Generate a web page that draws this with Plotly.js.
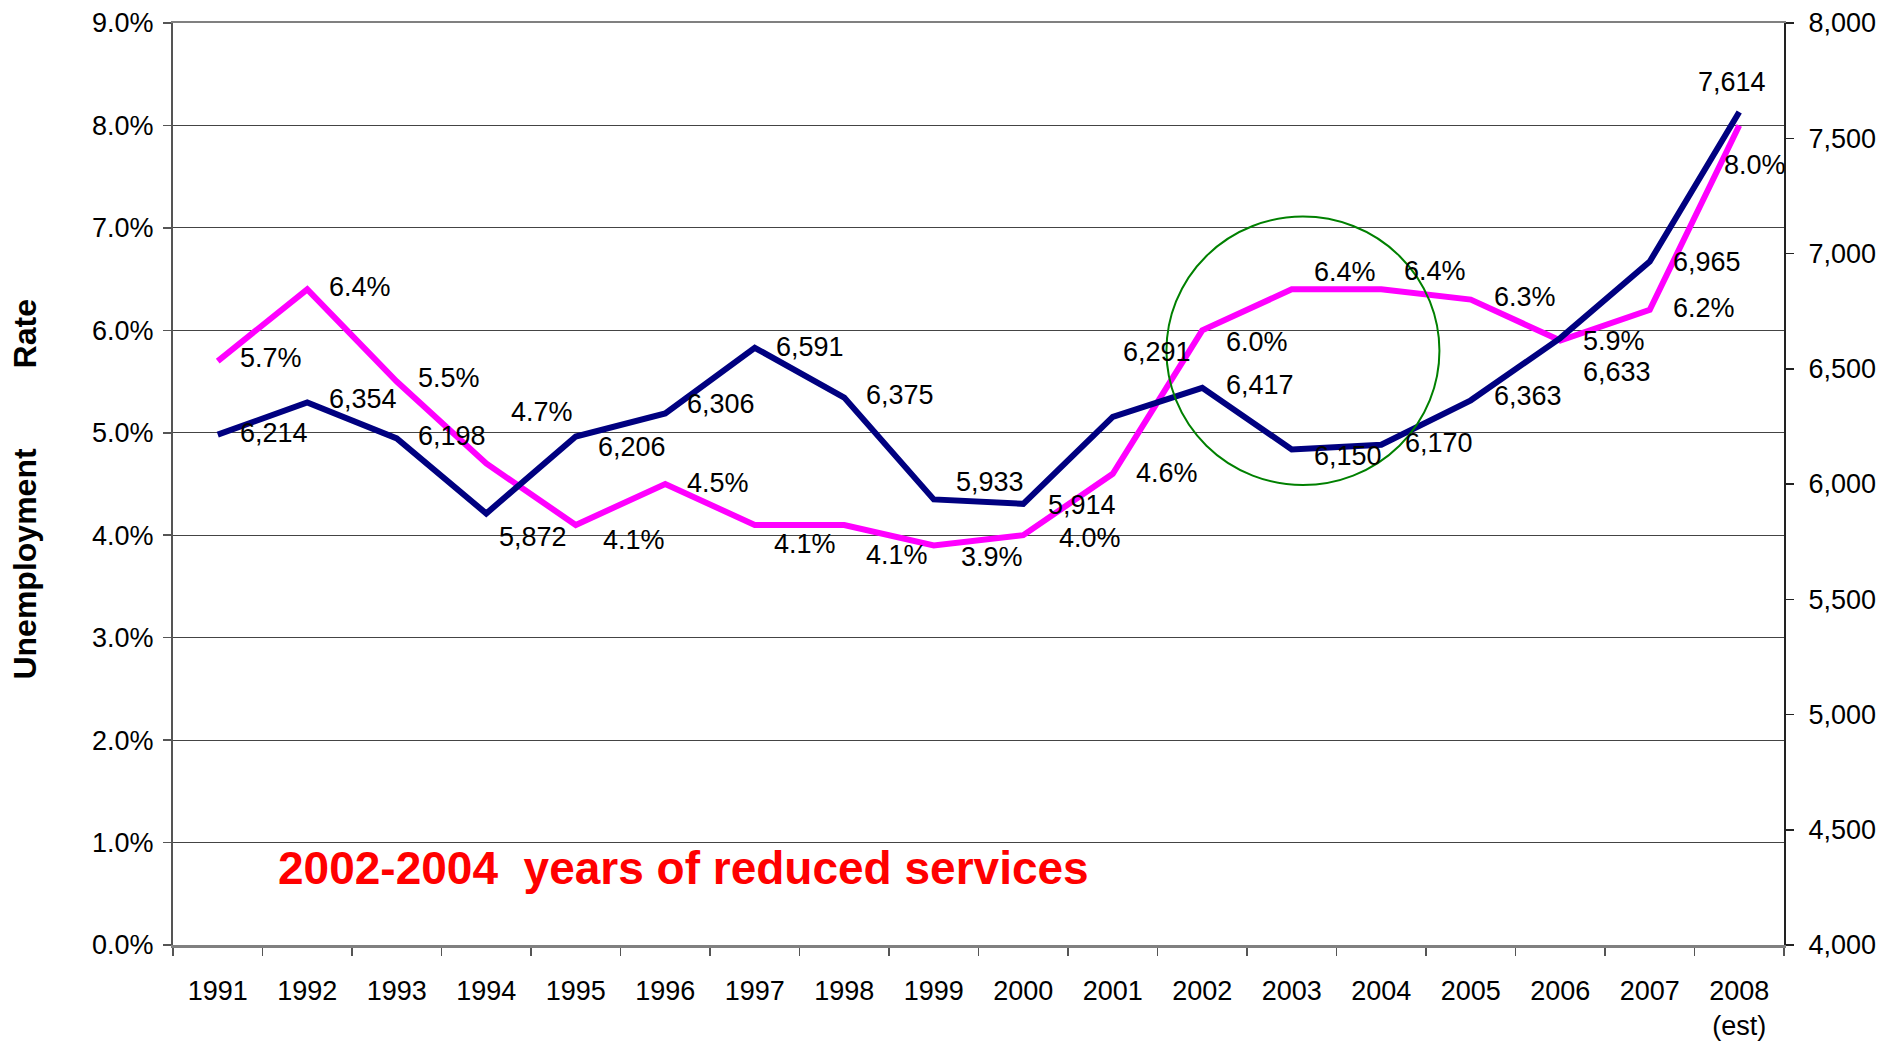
<!DOCTYPE html>
<html>
<head>
<meta charset="utf-8">
<script src="https://cdn.plot.ly/plotly-3.0.1.min.js"></script>
<style>
  html, body { margin: 0; padding: 0; background: #ffffff; }
  #chart { width: 1890px; height: 1057px; }
</style>
</head>
<body>
<div id="chart"></div>
<script>
// ---- data ----
const years = ['1991','1992','1993','1994','1995','1996','1997','1998','1999','2000',
               '2001','2002','2003','2004','2005','2006','2007','2008<br>(est)'];
const unemploymentRate = [5.7, 6.4, 5.5, 4.7, 4.1, 4.5, 4.1, 4.1, 3.9, 4.0,
                          4.6, 6.0, 6.4, 6.4, 6.3, 5.9, 6.2, 8.0];
const countSeries = [6214, 6354, 6198, 5872, 6206, 6306, 6591, 6375, 5933, 5914,
                     6291, 6417, 6150, 6170, 6363, 6633, 6965, 7614];
const leftTicks = [0, 1, 2, 3, 4, 5, 6, 7, 8, 9];
const rightTicks = [4000, 4500, 5000, 5500, 6000, 6500, 7000, 7500, 8000];
const yTitle = 'Unemployment' + '\u00a0'.repeat(9) + 'Rate';
const noteText = '2002-2004\u00a0\u00a0years of reduced services';

// ---- label placement (style: pixel offsets of each value label from its point) ----
const rateLabelDx = [21, 21, 20, 24, 26, 21, 18, 21, 26, 35, 22, 23, 21, 22, 22, 22, 22, -16];
const rateLabelDy = [-3, -2, -4, -52, 15, -1, 19, 30, 12, 3, -1, 12, -17, -18, -3, 0, -2, 40];
const countLabelDx = [21, 21, 20, 12, 21, 21, 20, 21, 21, 24, 9, 23, 21, 23, 22, 22, 22, -42];
const countLabelDy = [-2, -3, -2, 23, 10, -9, -1, -3, -17, 1, -65, -3, 7, -2, -4, 34, 0, -30];

const SANS = '"Liberation Sans", Arial, sans-serif';
const LABEL_SIZE = 27;

const rateTrace = {
  x: years, y: unemploymentRate, yaxis: 'y',
  type: 'scatter', mode: 'lines',
  line: {color: '#FF00FF', width: 6},
  showlegend: false, hoverinfo: 'skip'
};
const countTrace = {
  x: years, y: countSeries, yaxis: 'y2',
  type: 'scatter', mode: 'lines',
  line: {color: '#000080', width: 6},
  showlegend: false, hoverinfo: 'skip'
};

// value labels, positioned at each category (by its index on the category axis) and value
function valueLabels(values, fmt, yref, dxs, dys) {
  return values.map((v, i) => ({
    xref: 'x', yref: yref, x: years.indexOf(years[i]), y: v,
    text: fmt(v), showarrow: false,
    xanchor: 'left', yanchor: 'middle',
    xshift: dxs[i], yshift: -dys[i],
    borderpad: 0,
    font: {family: SANS, size: LABEL_SIZE, color: '#000'}
  }));
}

const labelAnnotations = []
  .concat(valueLabels(unemploymentRate, v => v.toFixed(1) + '%', 'y', rateLabelDx, rateLabelDy))
  .concat(valueLabels(countSeries, v => v.toLocaleString('en-US'), 'y2', countLabelDx, countLabelDy));

const layout = {
  width: 1890, height: 1057,
  margin: {l: 173, r: 106, t: 23, b: 112},
  paper_bgcolor: '#ffffff', plot_bgcolor: '#ffffff',
  font: {family: SANS, size: LABEL_SIZE, color: '#000'},
  showlegend: false,
  hovermode: false,
  xaxis: {
    type: 'category', range: [-0.5, 17.5],
    tickson: 'boundaries', ticks: 'outside', ticklen: 8, tickcolor: '#555', tickwidth: 1.5,
    showline: true, linecolor: '#808080', linewidth: 2.5, mirror: true,
    showgrid: false, zeroline: false,
    tickfont: {family: SANS, size: LABEL_SIZE, color: '#000'},
    ticklabelstandoff: 20
  },
  yaxis: {
    range: [0, 9], tickvals: leftTicks, ticktext: leftTicks.map(v => v.toFixed(1) + '%'),
    ticks: 'outside', ticklen: 8, tickcolor: '#555', tickwidth: 1.5,
    showline: true, linecolor: '#555', linewidth: 2,
    showgrid: true, gridcolor: '#444', gridwidth: 1.2, zeroline: false,
    tickfont: {family: SANS, size: LABEL_SIZE, color: '#000'},
    ticklabelstandoff: 4
  },
  yaxis2: {
    range: [4000, 8000], overlaying: 'y', side: 'right',
    tickvals: rightTicks, ticktext: rightTicks.map(v => v.toLocaleString('en-US')),
    ticks: 'outside', ticklen: 8, tickcolor: '#222', tickwidth: 1.5,
    showline: true, linecolor: '#222', linewidth: 2,
    showgrid: false, zeroline: false,
    tickfont: {family: SANS, size: LABEL_SIZE, color: '#000'},
    ticklabelstandoff: 9
  },
  shapes: [{
    type: 'circle', xref: 'x', yref: 'y',
    x0: 10.60, x1: 13.65, y0: 4.49, y1: 7.11,
    line: {color: 'rgb(0,128,0)', width: 2}
  }],
  annotations: labelAnnotations.concat([
    {
      xref: 'paper', yref: 'paper', x: -0.0919, y: 0.495,
      xanchor: 'center', yanchor: 'middle', textangle: -90, showarrow: false,
      text: '<b>' + yTitle + '</b>',
      font: {family: SANS, size: 32, color: '#000'}
    },
    {
      xref: 'paper', yref: 'paper', x: 0.0639, y: 0.084,
      xanchor: 'left', yanchor: 'middle', showarrow: false,
      text: '<b>' + noteText + '</b>',
      font: {family: SANS, size: 46, color: '#FF0000'}
    }
  ])
};

Plotly.newPlot('chart', [rateTrace, countTrace], layout, {staticPlot: true, displayModeBar: false});
</script>
</body>
</html>
